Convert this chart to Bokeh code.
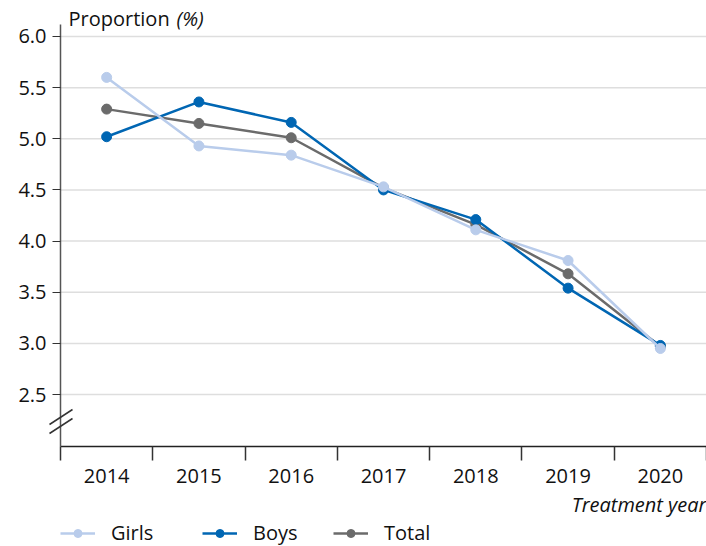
from bokeh.plotting import figure
from bokeh.models import (Range1d, FixedTicker, Label, Legend, LegendItem, Arrow,
                          NumeralTickFormatter)
from bokeh.embed import file_html
from bokeh.resources import INLINE

years = [2014, 2015, 2016, 2017, 2018, 2019, 2020]
girls = [5.60, 4.93, 4.84, 4.53, 4.11, 3.81, 2.95]
boys = [5.02, 5.36, 5.16, 4.50, 4.21, 3.54, 2.98]
total = [5.29, 5.15, 5.01, 4.52, 4.16, 3.68, 2.97]
y_ticks = [2.5, 3.0, 3.5, 4.0, 4.5, 5.0, 5.5, 6.0]
x_bounds = [2013.5, 2014.5, 2015.5, 2016.5, 2017.5, 2018.5, 2019.5, 2020.5]

C_GIRLS = "#b9cceb"
C_BOYS = "#0066b3"
C_TOTAL = "#6b6b6b"
FONT = "Open Sans"
FS = "20px"

W, H = 706, 546
# axis origin (value at the drawn axes) and plot extents
ax_x0, ax_x1 = x_bounds[0], x_bounds[-1]
ax_y0, ax_y1 = 1.992, 6.117
xpu = 646 / 7.0          # pixels per year
ypu = 102.3              # pixels per percentage point
x_start = ax_x0 - 60 / xpu
y_start = ax_y0 - (H - 446) / ypu
y_end = ax_y0 + 446 / ypu

p = figure(width=W, height=H, output_backend="svg", toolbar_location=None,
           x_range=Range1d(x_start, ax_x1), y_range=Range1d(y_start, y_end),
           min_border=0)
p.outline_line_color = None
p.background_fill_color = "white"
p.xgrid.visible = False
p.ygrid.visible = False

# horizontal grid lines
p.segment(x0=ax_x0, x1=ax_x1, y0=y_ticks, y1=y_ticks, line_color="#dedede",
          line_width=1.5, level="underlay")

# y axis
ya = p.yaxis[0]
ya.fixed_location = ax_x0
ya.bounds = (ax_y0, ax_y1)
ya.ticker = FixedTicker(ticks=y_ticks)
ya.formatter = NumeralTickFormatter(format="0.0")
ya.axis_line_color = "#555555"
ya.axis_line_width = 1.5
ya.major_tick_line_color = "#333333"
ya.major_tick_line_width = 1.2
ya.major_tick_in = 0
ya.major_tick_out = 8
ya.minor_tick_line_color = None
ya.major_label_standoff = 6
ya.major_label_text_font = FONT
ya.major_label_text_font_size = FS
ya.major_label_text_color = "#111111"

# x axis
xa = p.xaxis[0]
xa.fixed_location = ax_y0
xa.bounds = (ax_x0, ax_x1)
xa.ticker = FixedTicker(ticks=years, minor_ticks=x_bounds)
xa.axis_line_color = "#222222"
xa.axis_line_width = 1.5
xa.major_tick_line_color = None
xa.major_tick_in = 0
xa.major_tick_out = 0
xa.minor_tick_line_color = "#333333"
xa.minor_tick_line_width = 1.5
xa.minor_tick_in = 0
xa.minor_tick_out = 14
xa.major_label_standoff = 8
xa.major_label_text_font = FONT
xa.major_label_text_font_size = FS
xa.major_label_text_color = "#111111"

# series
rt_l = p.line(years, total, color=C_TOTAL, line_width=2.5)
rt_s = p.scatter(years, total, size=10, color=C_TOTAL)
rb_l = p.line(years, boys, color=C_BOYS, line_width=2.5)
rb_s = p.scatter(years, boys, size=10, color=C_BOYS)
rg_l = p.line(years, girls, color=C_GIRLS, line_width=2.5)
rg_s = p.scatter(years, girls, size=10, color=C_GIRLS)

# legend (one entry per series, placed along the bottom)
for label, rends, lx in [("Girls", [rg_l, rg_s], 60),
                         ("Boys", [rb_l, rb_s], 202),
                         ("Total", [rt_l, rt_s], 333)]:
    lg = Legend(items=[LegendItem(label=label, renderers=rends)],
                orientation="horizontal", location=(lx, 0),
                glyph_width=35, glyph_height=20, label_standoff=16,
                padding=0, margin=0, spacing=0,
                border_line_color=None, background_fill_alpha=0,
                label_text_font=FONT, label_text_font_size=FS,
                label_text_color="#111111")
    p.add_layout(lg)

# titles
p.add_layout(Label(x=ax_x0, y=ax_y1, x_offset=8, y_offset=6, text="Proportion",
                   text_baseline="alphabetic", text_font=FONT, text_font_size=FS,
                   text_color="#111111"))
p.add_layout(Label(x=ax_x0, y=ax_y1, x_offset=116, y_offset=6, text="(%)",
                   text_baseline="alphabetic", text_font=FONT, text_font_size=FS,
                   text_font_style="italic", text_color="#111111"))
p.add_layout(Label(x=ax_x1, y=ax_y0, x_offset=0, y_offset=-58, text="Treatment year",
                   text_align="right", text_baseline="alphabetic", text_font=FONT,
                   text_font_size=FS, text_font_style="italic", text_color="#111111"))

# axis break marks
for lo, hi in [(13, 28), (22, 37)]:
    p.add_layout(Arrow(x_start=ax_x0 - 11 / xpu, y_start=ax_y0 + lo / ypu,
                       x_end=ax_x0 + 12 / xpu, y_end=ax_y0 + hi / ypu,
                       start=None, end=None, line_color="#333333", line_width=1.5))

open("out.html", "w").write(file_html(p, INLINE))
